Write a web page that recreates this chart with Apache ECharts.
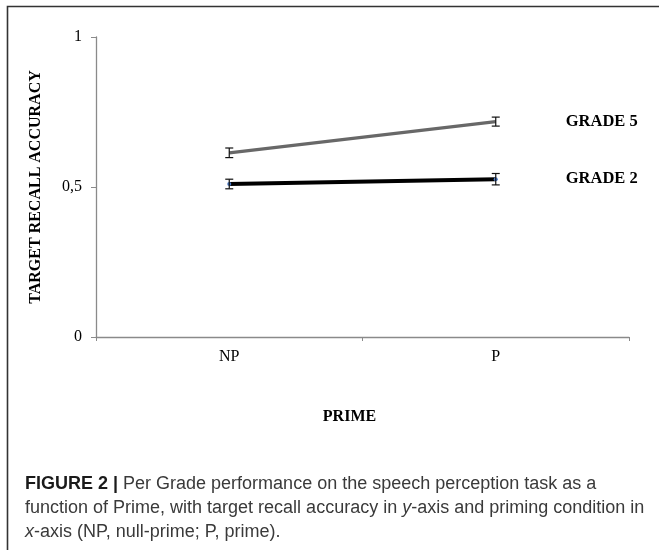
<!DOCTYPE html>
<html>
<head>
<meta charset="utf-8">
<script src="https://cdn.jsdelivr.net/npm/echarts@6/dist/echarts.min.js"></script>
<style>
html,body{margin:0;padding:0;background:#fff;}
#c{width:659px;height:550px;}
</style>
</head>
<body>
<div id="c"></div>
<script>
// ---- data ----
const categories = ['NP', 'P'];
const seriesNames = ['GRADE 5', 'GRADE 2'];
const grade5 = [0.614, 0.718];
const grade5Err = [0.016, 0.015];
const grade2 = [0.510, 0.526];
const grade2Err = [0.016, 0.019];
const yTicks = [0, 0.5, 1];
const yAxisTitle = 'TARGET RECALL ACCURACY';
const xAxisTitle = 'PRIME';
const captionLines = [
  '{b|FIGURE 2 |} Per Grade performance on the speech perception task as a',
  'function of Prime, with target recall accuracy in {i|y}-axis and priming condition in',
  '{i|x}-axis (NP, null-prime; P, prime).'
];

const serif = '"Liberation Serif", "Times New Roman", serif';
const sans = '"Liberation Sans", Arial, sans-serif';

function errData(vals, errs) {
  return vals.map((v, i) => [i, v - errs[i], v + errs[i]]);
}
function errRender(params, api) {
  const x = api.value(0);
  const lo = api.coord([x, api.value(1)]);
  const hi = api.coord([x, api.value(2)]);
  const w = 4;
  const st = { stroke: '#111', lineWidth: 1.2 };
  return {
    type: 'group',
    children: [
      { type: 'line', shape: { x1: lo[0], y1: lo[1], x2: hi[0], y2: hi[1] }, style: st },
      { type: 'line', shape: { x1: lo[0] - w, y1: lo[1], x2: lo[0] + w, y2: lo[1] }, style: st },
      { type: 'line', shape: { x1: hi[0] - w, y1: hi[1], x2: hi[0] + w, y2: hi[1] }, style: st }
    ]
  };
}

const chart = echarts.init(document.getElementById('c'), null, { renderer: 'canvas' });

const captionGraphics = captionLines.map((t, i) => ({
  type: 'text',
  left: 25,
  top: 475 + i * 24,
  z: 10,
  style: {
    text: t,
    font: '18px ' + sans,
    fill: '#3a3a3a',
    rich: {
      b: { fontFamily: sans, fontSize: 18, fontWeight: 'bold', fill: '#1a1a1a' },
      i: { fontFamily: sans, fontSize: 18, fontStyle: 'italic', fill: '#3a3a3a' }
    }
  }
}));

chart.setOption({
  animation: false,
  backgroundColor: '#fff',
  grid: { left: 96, right: 30, top: 37, bottom: 213 },
  xAxis: {
    type: 'category',
    data: categories,
    boundaryGap: true,
    name: xAxisTitle,
    nameLocation: 'middle',
    nameGap: 72,
    nameTextStyle: { fontFamily: serif, fontWeight: 'bold', fontSize: 16, color: '#000', padding: [0, 26, 0, 0] },
    axisLine: { show: true, lineStyle: { color: '#8a8a8a', width: 1.3 } },
    axisTick: { show: true, length: 4, alignWithLabel: false, lineStyle: { color: '#8a8a8a' } },
    axisLabel: { fontFamily: serif, fontSize: 16, color: '#000', margin: 12 },
    splitLine: { show: false }
  },
  yAxis: {
    type: 'value',
    min: yTicks[0],
    max: yTicks[yTicks.length - 1],
    interval: yTicks[1] - yTicks[0],
    name: yAxisTitle,
    nameLocation: 'middle',
    nameGap: 52,
    nameTextStyle: { fontFamily: serif, fontWeight: 'bold', fontSize: 16, color: '#000' },
    axisLine: { show: true, lineStyle: { color: '#8a8a8a', width: 1.3 } },
    axisTick: { show: true, length: 5, lineStyle: { color: '#8a8a8a' } },
    axisLabel: {
      fontFamily: serif, fontSize: 16, color: '#000', margin: 14,
      formatter: v => String(v).replace('.', ',')
    },
    splitLine: { show: false }
  },
  series: [
    {
      name: seriesNames[0],
      type: 'line',
      data: grade5,
      symbol: 'none',
      lineStyle: { color: '#686868', width: 3.2 },
      itemStyle: { color: '#686868' },
      endLabel: {
        show: true, formatter: '{a}', distance: 70,
        fontFamily: serif, fontWeight: 'bold', fontSize: 16.5, color: '#000'
      },
      z: 2
    },
    {
      name: seriesNames[1],
      type: 'line',
      data: grade2,
      symbol: 'circle',
      symbolSize: 4,
      itemStyle: { color: '#4a7ac8' },
      lineStyle: { color: '#000', width: 4 },
      endLabel: {
        show: true, formatter: '{a}', distance: 70,
        fontFamily: serif, fontWeight: 'bold', fontSize: 16.5, color: '#000'
      },
      z: 2
    },
    {
      type: 'custom',
      renderItem: errRender,
      data: errData(grade5, grade5Err),
      encode: { x: 0, y: [1, 2] },
      z: 3
    },
    {
      type: 'custom',
      renderItem: errRender,
      data: errData(grade2, grade2Err),
      encode: { x: 0, y: [1, 2] },
      z: 3
    }
  ],
  graphic: [
    {
      type: 'polyline',
      shape: { points: [[7.5, 550], [7.5, 6.5], [659, 6.5]] },
      style: { stroke: '#333', lineWidth: 1.6, fill: null },
      z: 10
    }
  ].concat(captionGraphics)
});
</script>
</body>
</html>
